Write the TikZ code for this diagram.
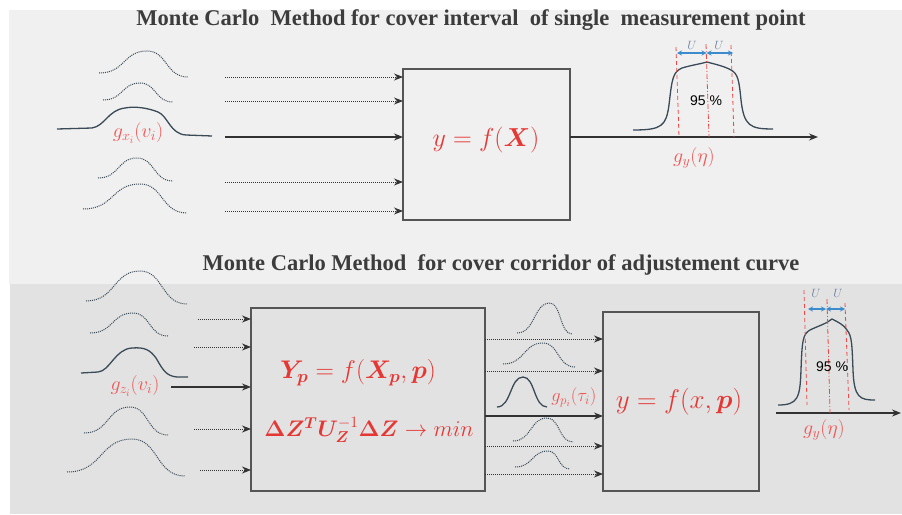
\RequirePackage{fix-cm}
\documentclass[tikz,border=0pt]{standalone}
\usepackage{amsmath,bm}
\usepackage{fontspec}
\setmainfont{Liberation Serif}
\newfontfamily\sansf{Liberation Sans}
\usetikzlibrary{arrows.meta}
\definecolor{panelA}{RGB}{240,240,240}
\definecolor{panelB}{RGB}{226,226,226}
\definecolor{titlec}{RGB}{60,60,60}
\definecolor{curvec}{RGB}{58,74,86}
\definecolor{arrc}{RGB}{50,50,50}
\definecolor{boxc}{RGB}{85,85,85}
\definecolor{fred}{RGB}{229,55,52}
\definecolor{lred}{RGB}{240,85,85}
\definecolor{dred}{RGB}{240,70,70}
\definecolor{ublue}{RGB}{60,140,205}
\definecolor{utext}{RGB}{110,130,160}
\newcommand{\bellcurve}[7]{%
  \draw[#1] (#2,#3) .. controls ({#2+0.55*(#4-#2)},#3) and ({#2+0.5*(#4-#2)},#5) .. (#4,#5)
    .. controls ({#4+0.5*(#6-#4)},#5) and ({#4+0.45*(#6-#4)},#7) .. (#6,#7);}
\begin{document}
\begin{tikzpicture}[x=1pt,y=-1pt,
  titletext/.style={font=\fontsize{22.5}{22.5}\selectfont\bfseries, text=titlec, inner sep=0pt},
  curveD/.style={draw=curvec, line width=1pt, dash pattern=on 1pt off 1pt},
  curveS/.style={draw=curvec, line width=1.3pt},
  darr/.style={draw=arrc, line width=1pt, dash pattern=on 1pt off 1pt, -{Stealth[length=9pt,width=7pt]}},
  sarr/.style={draw=arrc, line width=1.2pt, -{Stealth[length=9pt,width=7pt]}},
  boxnode/.style={draw=boxc, line width=1.3pt, inner sep=0pt, outer sep=0pt},
  formula/.style={text=fred, inner sep=0pt, font=\fontsize{26}{26}\selectfont},
  glabel/.style={text=lred, inner sep=0pt, font=\fontsize{20}{20}\selectfont},
  pct/.style={inner sep=0pt, font=\sansf\fontsize{14}{14}\selectfont},
  ulabel/.style={text=utext, inner sep=0pt, font=\fontsize{12}{12}\selectfont},
  redline/.style={draw=dred, line width=0.8pt, dash pattern=on 4pt off 3pt},
  reddot/.style={draw=dred, line width=0.8pt, dash pattern=on 5pt off 2pt on 1pt off 2pt},
  uarr/.style={draw=ublue, line width=1.2pt, {Stealth[length=5pt,width=5pt]}-{Stealth[length=5pt,width=5pt]}}
]
\fill[white] (0,0) rectangle (902,514);
\useasboundingbox (0,0) rectangle (902,514);
\fill[panelA] (9,10) rectangle (902,284);
\fill[panelB] (10,284) rectangle (902,514);

% titles
\node[titletext] (t1) at (471,20) {Monte Carlo\ \ Method for cover interval\ \ of single\ \ measurement point};
\node[titletext] (t2) at (501,265) {Monte Carlo Method\ \ for cover corridor of adjustement curve};

% ---------- top part ----------
\node[boxnode, minimum width=167, minimum height=151] (B1) at (486.5,144.5) {};
\node[formula] (f1) at (486,140) {$y=f(\bm{X})$};

\bellcurve{curveD}{99}{73}{147}{51}{188}{77}
\bellcurve{curveD}{103}{100}{140}{83}{173}{102}
\draw[curveS] (57,129) -- (92,128) .. controls (105,126) and (108,110) .. (125,108)
  .. controls (135,106) and (148,108) .. (158,112) .. controls (168,116) and (170,134) .. (186,135) -- (212,136);
\bellcurve{curveD}{98}{178}{137}{158}{173}{181}
\bellcurve{curveD}{83}{209}{140}{184}{187}{213}
\node[glabel] (gx) at (138,133) {$g_{x_i}(v_i)$};

\coordinate (a1) at (225,77);
\coordinate (a2) at (225,101);
\coordinate (a3) at (225,137);
\coordinate (a4) at (225,182);
\coordinate (a5) at (225,211);
\draw[darr] (a1) -- (a1 -| B1.west);
\draw[darr] (a2) -- (a2 -| B1.west);
\draw[sarr] (a3) -- (a3 -| B1.west);
\draw[darr] (a4) -- (a4 -| B1.west);
\draw[darr] (a5) -- (a5 -| B1.west);

\coordinate (o1) at (818,137);
\draw[sarr] (o1 -| B1.east) -- (o1);

% output distribution top
\draw[curveS] (633,130) .. controls (662,130) and (666,126) .. (669,105)
  .. controls (672,78) and (673,72) .. (682,68) .. controls (692,65) and (700,64) .. (707,62)
  .. controls (714,64) and (724,66) .. (731,70) .. controls (738,74) and (739,80) .. (741,100)
  .. controls (744,126) and (750,129) .. (773,129);
\draw[redline] (676,47) -- (679,137);
\draw[reddot] (706,44) -- (709,137);
\draw[redline] (731,45) -- (734,137);
\coordinate (u1) at (677,53);
\coordinate (u2) at (706.5,53);
\coordinate (u3) at (733,53);
\draw[uarr] (u1) -- (u2);
\draw[uarr] (u2) -- (u3);
\node[ulabel] (U1) at (692,45) {$U$};
\node[ulabel] (U2) at (719,45) {$U$};
\node[pct] (p1) at (706,101) {95 \%};
\node[glabel] (gy1) at (694,158) {$g_y(\eta)$};

% ---------- bottom part ----------
\node[boxnode, minimum width=234, minimum height=183] (B2) at (368,399.5) {};
\node[formula, font=\fontsize{25.5}{25.5}\selectfont] (f2) at (358,373) {$\bm{Y_p}=f(\bm{X_p},\bm{p})$};
\node[formula, font=\fontsize{22.5}{22.5}\selectfont] (f3) at (369,430) {$\bm{\Delta Z}^{\bm{T}}\bm{U}_{\bm{Z}}^{-1}\bm{\Delta Z}\rightarrow min$};

\bellcurve{curveD}{86}{301}{140}{271}{187}{304}
\bellcurve{curveD}{90}{333}{133}{313}{168}{336}
\draw[curveS] (81,373) -- (98,372) .. controls (110,371) and (115,349) .. (132,348)
  .. controls (145,347) and (150,350) .. (156,358) .. controls (163,370) and (166,376) .. (177,377) -- (188,377);
\bellcurve{curveD}{84}{433}{130}{407}{168}{435}
\bellcurve{curveD}{67}{472}{132}{439}{185}{476}
\node[glabel] (gz) at (135,386) {$g_{z_i}(v_i)$};

\coordinate (b1) at (198,319);
\coordinate (b2) at (194,347);
\coordinate (b3) at (171,387);
\coordinate (b4) at (194,429);
\coordinate (b5) at (200,470);
\draw[darr] (b1) -- (b1 -| B2.west);
\draw[darr] (b2) -- (b2 -| B2.west);
\draw[sarr] (b3) -- (b3 -| B2.west);
\draw[darr] (b4) -- (b4 -| B2.west);
\draw[darr] (b5) -- (b5 -| B2.west);

\node[boxnode, minimum width=156, minimum height=179] (B3) at (681,401.5) {};
\node[formula, font=\fontsize{27}{27}\selectfont] (f4) at (679,402) {$y=f(x,\bm{p})$};

\bellcurve{curveD}{517}{333}{550}{303}{572}{334}
\bellcurve{curveD}{503}{364}{543}{343}{575}{367}
\bellcurve{curveS}{497}{407}{523}{377}{547}{407}
\bellcurve{curveD}{513}{441}{547}{418}{573}{442}
\bellcurve{curveD}{515}{467}{548}{451}{570}{469}
\node[glabel, font=\fontsize{18.5}{18.5}\selectfont] (gp) at (574,397) {$g_{p_i}(\tau_i)$};

\coordinate (c1) at (560,339);
\coordinate (c2) at (560,371);
\coordinate (c3) at (560,416);
\coordinate (c4) at (560,446);
\coordinate (c5) at (560,474);
\draw[darr] (c1 -| B2.east) -- (c1 -| B3.west);
\draw[darr] (c2 -| B2.east) -- (c2 -| B3.west);
\draw[sarr] (c3 -| B2.east) -- (c3 -| B3.west);
\draw[darr] (c4 -| B2.east) -- (c4 -| B3.west);
\draw[darr] (c5 -| B2.east) -- (c5 -| B3.west);

\coordinate (o2s) at (776,413);
\coordinate (o2) at (901,413);
\draw[sarr] (o2s) -- (o2);

\draw[curveS] (778,405) .. controls (798,405) and (800,398) .. (801,370)
  .. controls (802,340) and (803,334) .. (810,330) .. controls (818,326) and (826,324) .. (832,319)
  .. controls (838,322) and (844,325) .. (847,330) .. controls (852,336) and (852,345) .. (853,370)
  .. controls (854,398) and (860,400) .. (875,400);
\draw[redline] (804,290) -- (807,405);
\draw[reddot] (827,299) -- (830,413);
\draw[redline] (845,303) -- (849,410);
\coordinate (v1) at (808,309);
\coordinate (v2) at (826,309);
\coordinate (v3) at (845,309);
\draw[uarr] (v1) -- (v2);
\draw[uarr] (v2) -- (v3);
\node[ulabel] (U3) at (816,293) {$U$};
\node[ulabel] (U4) at (838,293) {$U$};
\node[pct] (p2) at (832,367) {95 \%};
\node[glabel] (gy2) at (824,430) {$g_y(\eta)$};
\end{tikzpicture}
\end{document}
